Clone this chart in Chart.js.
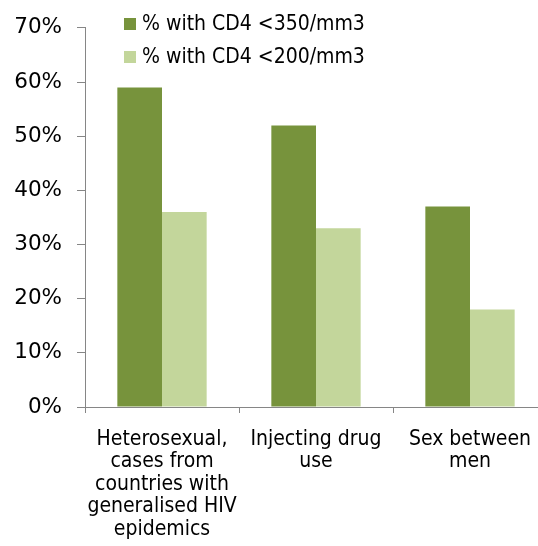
<!DOCTYPE html>
<html>
<head>
<meta charset="utf-8">
<script src="https://cdn.jsdelivr.net/npm/chart.js@4"></script>
<style>
  html, body { margin: 0; padding: 0; overflow: hidden; background: #fff; }
  #wrap { width: 548px; height: 546px; }
</style>
</head>
<body>
<div id="wrap"><canvas id="cd4Chart"></canvas></div>
<script>
// Late diagnosis by transmission route
const categories = [
  ['Heterosexual,', 'cases from', 'countries with', 'generalised HIV', 'epidemics'],
  ['Injecting drug', 'use'],
  ['Sex between', 'men']
];
const seriesNames = ['% with CD4 <350/mm3', '% with CD4 <200/mm3'];
const below350 = [59, 52, 37];
const below200 = [36, 33, 18];
const yTicks = [0, 10, 20, 30, 40, 50, 60, 70];

const darkGreen = '#77933c';
const lightGreen = '#c3d69b';
const axisGrey = '#868686';
const fontFamily = '"DejaVu Sans", Verdana, sans-serif';
const narrowFamily = '"DejaVu Sans Condensed", "DejaVu Sans", sans-serif';

// Legend drawn inside the plot, top-left, like the original
const insideLegend = {
  id: 'insideLegend',
  afterDraw(chart) {
    const ctx = chart.ctx;
    ctx.save();
    ctx.font = '21px ' + narrowFamily;
    ctx.textBaseline = 'middle';
    chart.data.datasets.forEach((ds, i) => {
      const y = 24 + i * 33;
      ctx.fillStyle = ds.backgroundColor;
      ctx.fillRect(124, y - 6, 12, 12);
      ctx.fillStyle = '#000';
      ctx.fillText(ds.label, 142, y + 1);
    });
    ctx.restore();
  }
};

new Chart(document.getElementById('cd4Chart'), {
  type: 'bar',
  data: {
    labels: categories,
    datasets: [
      { label: seriesNames[0], data: below350, backgroundColor: darkGreen },
      { label: seriesNames[1], data: below200, backgroundColor: lightGreen }
    ]
  },
  options: {
    responsive: true,
    maintainAspectRatio: false,
    animation: false,
    layout: { padding: { top: 27, right: 1, bottom: 0, left: 0 } },
    datasets: { bar: { categoryPercentage: 0.58, barPercentage: 1.0 } },
    plugins: {
      legend: { display: false },
      tooltip: { enabled: false }
    },
    scales: {
      x: {
        afterFit(scale) { scale.height = 139; },
        grid: {
          offset: true,
          drawOnChartArea: false,
          drawTicks: true,
          tickLength: 6,
          color: axisGrey
        },
        border: { color: axisGrey, width: 1 },
        ticks: {
          color: '#000',
          padding: 15,
          maxRotation: 0,
          autoSkip: false,
          font: { family: narrowFamily, size: 21, lineHeight: 1.07 }
        }
      },
      y: {
        min: 0,
        max: 70,
        afterFit(scale) { scale.width = 85; },
        afterBuildTicks(scale) { scale.ticks = yTicks.map(v => ({ value: v })); },
        grid: {
          drawOnChartArea: false,
          drawTicks: true,
          tickLength: 8,
          color: axisGrey
        },
        border: { color: axisGrey, width: 1 },
        ticks: {
          color: '#000',
          padding: 15,
          font: { family: fontFamily, size: 21.5 },
          callback: v => v + '%'
        }
      }
    }
  },
  plugins: [insideLegend]
});
</script>
</body>
</html>
